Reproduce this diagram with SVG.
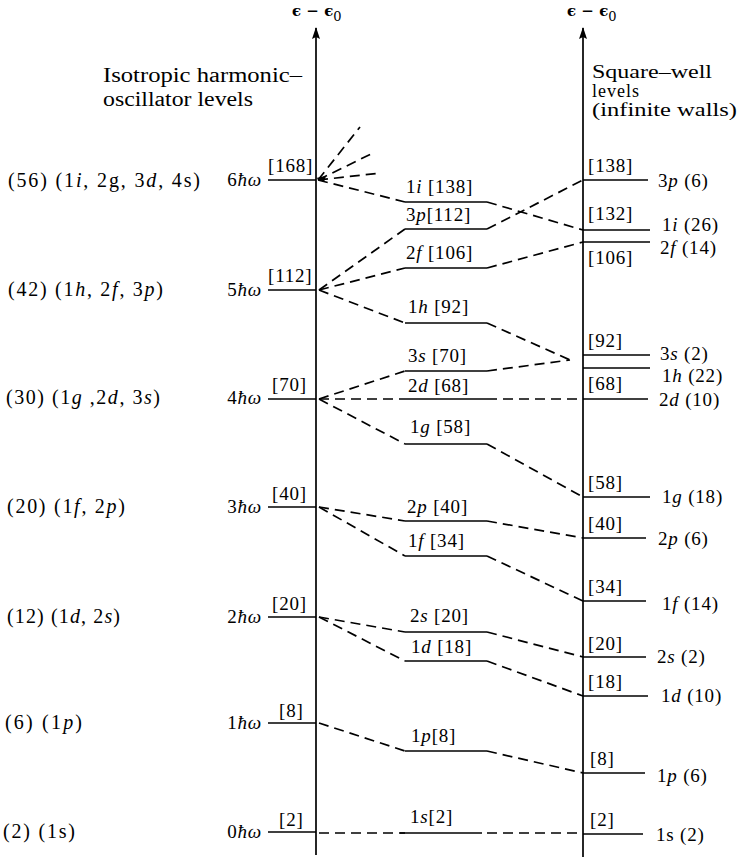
<svg xmlns="http://www.w3.org/2000/svg" width="741" height="860" viewBox="0 0 741 860">
<defs>
<style>
.t{font-family:"Liberation Serif","Times New Roman",serif;font-size:19px;letter-spacing:0.8px;fill:#000}
.L{font-family:"Liberation Serif","Times New Roman",serif;font-size:20px;fill:#000}
.h{font-family:"Liberation Serif","Times New Roman",serif;font-size:20px;fill:#000}
.hr{font-family:"Liberation Serif","Times New Roman",serif;font-size:18px;fill:#000}
.ax{font-family:"DejaVu Serif","Liberation Serif",serif;font-size:15px;font-weight:bold;fill:#000}
.i{font-style:italic}
.lv{stroke:#000;stroke-width:1.7;fill:none}
.d{stroke:#000;stroke-width:1.7;fill:none;stroke-dasharray:10 6}
.axis{stroke:#000;stroke-width:1.7;fill:none}
</style>
<marker id="arr" viewBox="0 0 12 8" refX="11" refY="4" markerWidth="12" markerHeight="8" markerUnits="userSpaceOnUse" orient="auto">
<path d="M12,4 L0,0 L2,4 L0,8 Z" fill="#000"/>
</marker>
</defs>
<rect width="741" height="860" fill="#fff"/>

<g id="axes">
<line class="axis" x1="316" y1="855" x2="316" y2="28" marker-end="url(#arr)"/>
<line class="axis" x1="583" y1="857" x2="583" y2="28" marker-end="url(#arr)"/>
<text class="ax" x="292" y="16">ϵ − ϵ<tspan dy="5" font-size="13" font-weight="normal">0</tspan></text>
<text class="ax" x="567" y="16">ϵ − ϵ<tspan dy="5" font-size="13" font-weight="normal">0</tspan></text>
</g>

<g id="headings">
<text class="h" x="103" y="82" textLength="199" lengthAdjust="spacingAndGlyphs">Isotropic harmonic–</text>
<text class="h" x="103" y="106" textLength="150" lengthAdjust="spacingAndGlyphs">oscillator levels</text>
<text class="hr" x="592" y="78" textLength="120" lengthAdjust="spacingAndGlyphs">Square–well</text>
<text class="hr" x="592" y="97" letter-spacing="1">levels</text>
<text class="hr" x="592" y="116" textLength="145" lengthAdjust="spacingAndGlyphs">(infinite walls)</text>
</g>

<g id="connectors">
<path class="d" d="M318,180 L360,127 M318,180 L373,153 M318,180 L381,173 M318,180 L405,202"/>
<path class="d" d="M487,202 L583,230"/>
<path class="d" d="M319,290 L405,229 M487,229 L583,180"/>
<path class="d" d="M319,290 L405,268 M487,268 L583,242"/>
<path class="d" d="M319,290 L405,323 M487,323 L570,360"/>
<path class="d" d="M319,399 L405,371 M487,371 L570,360"/>
<path class="d" d="M319,399 L405,399 M487,399 L583,399"/>
<path class="d" d="M319,399 L405,444 M487,444 L583,497"/>
<path class="d" d="M319,507 L405,521 M487,521 L583,538"/>
<path class="d" d="M319,507 L405,556 M487,556 L583,601"/>
<path class="d" d="M319,617 L405,632 M487,632 L583,657"/>
<path class="d" d="M319,617 L405,661 M487,661 L583,696"/>
<path class="d" d="M319,723 L405,751 M487,751 L583,773"/>
<path class="d" d="M319,833 L405,833 M487,833 L583,833"/>
<path d="M316,178 L326,176 L324,182 Z" fill="#000"/>
</g>

<!-- Left oscillator levels -->
<g id="osc6">
<line class="lv" x1="268" y1="180" x2="316" y2="180"/>
<text class="L" x="8" y="187" textLength="192" lengthAdjust="spacing">(56) (1<tspan class="i">i</tspan>, 2g, 3<tspan class="i">d</tspan>, 4s)</text>
<text class="t" x="262" y="186" text-anchor="end">6<tspan class="i">ħω</tspan></text>
<text class="t" x="268" y="172">[168]</text>
</g>
<g id="osc5">
<line class="lv" x1="268" y1="290" x2="316" y2="290"/>
<text class="L" x="8" y="296" textLength="155" lengthAdjust="spacing">(42) (1<tspan class="i">h</tspan>, 2<tspan class="i">f</tspan>, 3<tspan class="i">p</tspan>)</text>
<text class="t" x="262" y="296" text-anchor="end">5<tspan class="i">ħω</tspan></text>
<text class="t" x="268" y="282">[112]</text>
</g>
<g id="osc4">
<line class="lv" x1="268" y1="399" x2="316" y2="399"/>
<text class="L" x="6" y="404" textLength="154" lengthAdjust="spacing">(30) (1<tspan class="i">g</tspan> ,2<tspan class="i">d</tspan>, 3<tspan class="i">s</tspan>)</text>
<text class="t" x="262" y="404" text-anchor="end">4<tspan class="i">ħω</tspan></text>
<text class="t" x="272" y="391">[70]</text>
</g>
<g id="osc3">
<line class="lv" x1="268" y1="507" x2="316" y2="507"/>
<text class="L" x="7" y="513" textLength="118" lengthAdjust="spacing">(20) (1<tspan class="i">f</tspan>, 2<tspan class="i">p</tspan>)</text>
<text class="t" x="262" y="513" text-anchor="end">3<tspan class="i">ħω</tspan></text>
<text class="t" x="272" y="500">[40]</text>
</g>
<g id="osc2">
<line class="lv" x1="268" y1="617" x2="316" y2="617"/>
<text class="L" x="7" y="623" textLength="113" lengthAdjust="spacing">(12) (1<tspan class="i">d</tspan>, 2<tspan class="i">s</tspan>)</text>
<text class="t" x="262" y="623" text-anchor="end">2<tspan class="i">ħω</tspan></text>
<text class="t" x="272" y="610">[20]</text>
</g>
<g id="osc1">
<line class="lv" x1="268" y1="723" x2="316" y2="723"/>
<text class="L" x="5" y="729" textLength="77" lengthAdjust="spacing">(6) (1<tspan class="i">p</tspan>)</text>
<text class="t" x="262" y="729" text-anchor="end">1<tspan class="i">ħω</tspan></text>
<text class="t" x="279" y="717">[8]</text>
</g>
<g id="osc0">
<line class="lv" x1="268" y1="832" x2="316" y2="832"/>
<text class="L" x="3" y="838" textLength="72" lengthAdjust="spacing">(2) (1s)</text>
<text class="t" x="262" y="838" text-anchor="end">0<tspan class="i">ħω</tspan></text>
<text class="t" x="279" y="826">[2]</text>
</g>

<!-- Middle levels -->
<g id="mid-1i"><line class="lv" x1="405" y1="202" x2="487" y2="202"/><text class="t" x="406" y="193">1<tspan class="i">i</tspan> [138]</text></g>
<g id="mid-3p"><line class="lv" x1="405" y1="229" x2="487" y2="229"/><text class="t" x="406" y="221">3<tspan class="i">p</tspan>[112]</text></g>
<g id="mid-2f"><line class="lv" x1="405" y1="268" x2="487" y2="268"/><text class="t" x="406" y="259">2<tspan class="i">f</tspan> [106]</text></g>
<g id="mid-1h"><line class="lv" x1="405" y1="323" x2="487" y2="323"/><text class="t" x="408" y="313">1<tspan class="i">h</tspan> [92]</text></g>
<g id="mid-3s"><line class="lv" x1="405" y1="371" x2="487" y2="371"/><text class="t" x="408" y="362">3<tspan class="i">s</tspan> [70]</text></g>
<g id="mid-2d"><line class="lv" x1="405" y1="399" x2="487" y2="399"/><text class="t" x="408" y="392">2<tspan class="i">d</tspan> [68]</text></g>
<g id="mid-1g"><line class="lv" x1="405" y1="444" x2="487" y2="444"/><text class="t" x="410" y="433">1<tspan class="i">g</tspan> [58]</text></g>
<g id="mid-2p"><line class="lv" x1="405" y1="521" x2="487" y2="521"/><text class="t" x="407" y="513">2<tspan class="i">p</tspan> [40]</text></g>
<g id="mid-1f"><line class="lv" x1="405" y1="556" x2="487" y2="556"/><text class="t" x="408" y="547">1<tspan class="i">f</tspan> [34]</text></g>
<g id="mid-2s"><line class="lv" x1="405" y1="632" x2="487" y2="632"/><text class="t" x="410" y="622">2<tspan class="i">s</tspan> [20]</text></g>
<g id="mid-1d"><line class="lv" x1="405" y1="661" x2="487" y2="661"/><text class="t" x="411" y="653">1<tspan class="i">d</tspan> [18]</text></g>
<g id="mid-1p"><line class="lv" x1="405" y1="751" x2="487" y2="751"/><text class="t" x="411" y="742">1<tspan class="i">p</tspan>[8]</text></g>
<g id="mid-1s"><line class="lv" x1="400" y1="833" x2="482" y2="833"/><text class="t" x="410" y="823">1<tspan class="i">s</tspan>[2]</text></g>

<!-- Right square-well levels -->
<g id="sq-3p"><line class="lv" x1="583" y1="180" x2="648" y2="180"/><text class="t" x="588" y="172">[138]</text><text class="t" x="658" y="187">3<tspan class="i">p</tspan> (6)</text></g>
<g id="sq-1i"><line class="lv" x1="583" y1="230" x2="650" y2="230"/><text class="t" x="588" y="220">[132]</text><text class="t" x="662" y="231">1<tspan class="i">i</tspan>  (26)</text></g>
<g id="sq-2f"><line class="lv" x1="583" y1="242" x2="650" y2="242"/><text class="t" x="588" y="264">[106]</text><text class="t" x="660" y="254">2<tspan class="i">f</tspan> (14)</text></g>
<g id="sq-3s"><line class="lv" x1="583" y1="355" x2="650" y2="355"/><text class="t" x="588" y="347">[92]</text><text class="t" x="660" y="360">3<tspan class="i">s</tspan>  (2)</text></g>
<g id="sq-1h"><line class="lv" x1="583" y1="368" x2="650" y2="368"/><text class="t" x="662" y="382">1<tspan class="i">h</tspan> (22)</text></g>
<g id="sq-2d"><line class="lv" x1="583" y1="399" x2="648" y2="399"/><text class="t" x="588" y="390">[68]</text><text class="t" x="659" y="406">2<tspan class="i">d</tspan> (10)</text></g>
<g id="sq-1g"><line class="lv" x1="583" y1="497" x2="650" y2="497"/><text class="t" x="588" y="489">[58]</text><text class="t" x="662" y="503">1<tspan class="i">g</tspan> (18)</text></g>
<g id="sq-2p"><line class="lv" x1="583" y1="538" x2="646" y2="538"/><text class="t" x="588" y="530">[40]</text><text class="t" x="658" y="545">2<tspan class="i">p</tspan> (6)</text></g>
<g id="sq-1f"><line class="lv" x1="583" y1="601" x2="646" y2="601"/><text class="t" x="588" y="593">[34]</text><text class="t" x="662" y="610">1<tspan class="i">f</tspan> (14)</text></g>
<g id="sq-2s"><line class="lv" x1="583" y1="657" x2="646" y2="657"/><text class="t" x="588" y="650">[20]</text><text class="t" x="657" y="663">2<tspan class="i">s</tspan> (2)</text></g>
<g id="sq-1d"><line class="lv" x1="583" y1="696" x2="648" y2="696"/><text class="t" x="588" y="688">[18]</text><text class="t" x="661" y="702">1<tspan class="i">d</tspan> (10)</text></g>
<g id="sq-1p"><line class="lv" x1="583" y1="773" x2="645" y2="773"/><text class="t" x="590" y="765">[8]</text><text class="t" x="657" y="782">1<tspan class="i">p</tspan> (6)</text></g>
<g id="sq-1s"><line class="lv" x1="583" y1="834" x2="643" y2="834"/><text class="t" x="590" y="826">[2]</text><text class="t" x="656" y="841">1s (2)</text></g>
</svg>
